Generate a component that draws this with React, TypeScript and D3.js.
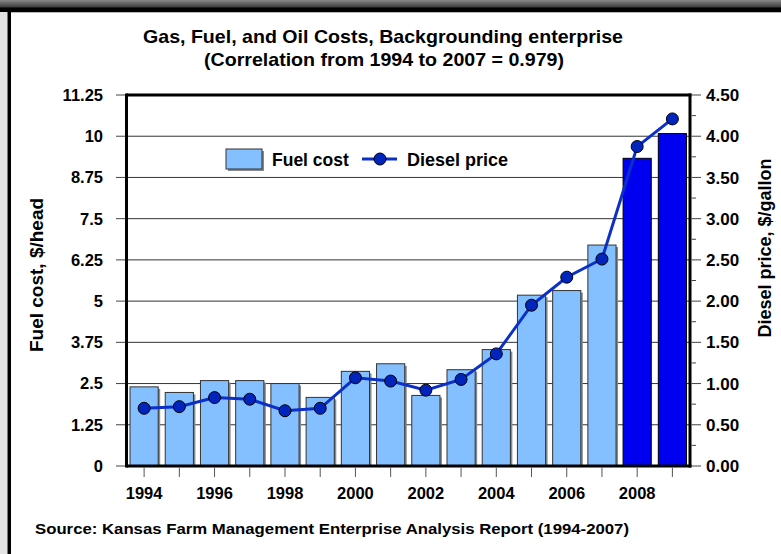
import { useEffect } from "react";
import * as d3 from "d3";

const years = ["1994", "1995", "1996", "1997", "1998", "1999", "2000", "2001", "2002", "2003", "2004", "2005", "2006", "2007", "2008", "2009"];
const fuelCost = [2.4, 2.23, 2.59, 2.59, 2.5, 2.08, 2.87, 3.1, 2.14, 2.92, 3.53, 5.18, 5.32, 6.7, 9.33, 10.08];
const dieselPrice = [0.7, 0.72, 0.83, 0.81, 0.67, 0.7, 1.07, 1.03, 0.92, 1.05, 1.36, 1.95, 2.29, 2.51, 3.875, 4.21];
const projectedYears = ["2008", "2009"];
const xLabelYears = ["1994", "1996", "1998", "2000", "2002", "2004", "2006", "2008"];
const leftTicks = [0, 1.25, 2.5, 3.75, 5, 6.25, 7.5, 8.75, 10, 11.25];
const leftTickLabels = ["0", "1.25", "2.5", "3.75", "5", "6.25", "7.5", "8.75", "10", "11.25"];
const rightTicks = [0, 0.5, 1, 1.5, 2, 2.5, 3, 3.5, 4, 4.5];
const rightMinor = [0.25, 0.75, 1.25, 1.75, 2.25, 2.75, 3.25, 3.75, 4.25];

const W = 781;
const H = 554;
const plot = { left: 126.5, right: 690, top: 95, bottom: 466 };
const font = "'Liberation Sans', Arial, sans-serif";

export default function App() {
  useEffect(() => {
    document.body.style.margin = "0";
  }, []);

  const x = d3.scaleBand<string>().domain(years).range([plot.left, plot.right]).paddingInner(0.2).paddingOuter(0.1);
  const yL = d3.scaleLinear().domain([0, 11.25]).range([plot.bottom, plot.top]);
  const yR = d3.scaleLinear().domain([0, 4.5]).range([plot.bottom, plot.top]);
  const cx = (yr: string) => (x(yr) ?? 0) + x.bandwidth() / 2;

  const line = d3
    .line<number>()
    .x((_, i) => cx(years[i]))
    .y(d => yR(d));

  return (
    <svg width={W} height={H} viewBox={`0 0 ${W} ${H}`} style={{ display: "block", background: "#fff" }}>
      <defs>
        <linearGradient id="topband" x1="0" y1="0" x2="0" y2="1">
          <stop offset="0" stopColor="#888" />
          <stop offset="1" stopColor="#333" />
        </linearGradient>
      </defs>
      {/* frame */}
      <rect x={0} y={0} width={W} height={8} fill="url(#topband)" />
      <rect x={0} y={7.5} width={W} height={4.5} fill="#000" />
      <rect x={0} y={12} width={W} height={1} fill="#bbb" />
      <rect x={0} y={12} width={7.5} height={H} fill="#e4e4e4" />
      <rect x={7.5} y={11} width={3.5} height={H} fill="#000" />

      {/* title */}
      <g fontFamily={font} fontWeight="bold" fill="#000" textAnchor="middle">
        <text x={383} y={43} fontSize={18.5} textLength={480} lengthAdjust="spacingAndGlyphs">
          Gas, Fuel, and Oil Costs, Backgrounding enterprise
        </text>
        <text x={384} y={66} fontSize={18.5} textLength={360} lengthAdjust="spacingAndGlyphs">
          (Correlation from 1994 to 2007 = 0.979)
        </text>
      </g>

      {/* gridlines */}
      {leftTicks.map(t => (
        <line key={t} x1={plot.left} x2={plot.right} y1={yL(t)} y2={yL(t)} stroke="#333" strokeWidth={1} />
      ))}

      {/* bars */}
      {years.map((yr, i) => {
        const proj = projectedYears.includes(yr);
        const bx = x(yr) ?? 0;
        const by = yL(fuelCost[i]);
        const bh = plot.bottom - by;
        return (
          <g key={yr}>
            {!proj && <rect x={bx + 2} y={by + 2} width={x.bandwidth()} height={bh - 2} fill="#8a8a8a" />}
            <rect
              x={bx}
              y={by}
              width={x.bandwidth()}
              height={bh}
              fill={proj ? "#0000f0" : "#84c0ff"}
              stroke={proj ? "#000" : "#333"}
              strokeWidth={1}
            />
          </g>
        );
      })}

      {/* axes frame */}
      <line x1={plot.left} x2={plot.right + 1.5} y1={plot.top} y2={plot.top} stroke="#000" strokeWidth={3} />
      <line x1={plot.left} x2={plot.right + 1.5} y1={plot.bottom} y2={plot.bottom} stroke="#000" strokeWidth={3} />
      <line x1={plot.left} x2={plot.left} y1={plot.top - 1.5} y2={plot.bottom + 1.5} stroke="#000" strokeWidth={3} />
      <line x1={plot.right} x2={plot.right} y1={plot.top - 1.5} y2={plot.bottom + 1.5} stroke="#000" strokeWidth={3} />

      {/* diesel line */}
      <path d={line(dieselPrice) ?? ""} fill="none" stroke="#0a30c8" strokeWidth={3} />
      {dieselPrice.map((d, i) => (
        <circle key={years[i]} cx={cx(years[i])} cy={yR(d)} r={6} fill="#0024bc" stroke="#000" strokeWidth={1} />
      ))}

      {/* left axis */}
      <g fontFamily={font} fontWeight="bold" fontSize={16.5} fill="#000">
        {leftTicks.map((t, i) => (
          <g key={t}>
            <line x1={116} x2={plot.left - 1.5} y1={yL(t)} y2={yL(t)} stroke="#444" strokeWidth={1} />
            <text x={103} y={yL(t)} dy="0.36em" textAnchor="end">
              {leftTickLabels[i]}
            </text>
          </g>
        ))}
      </g>

      {/* right axis */}
      <g fontFamily={font} fontWeight="bold" fontSize={17} fill="#000">
        {rightTicks.map(t => (
          <g key={t}>
            <line x1={plot.right + 1.5} x2={701} y1={yR(t)} y2={yR(t)} stroke="#444" strokeWidth={1} />
            <text x={706} y={yR(t)} dy="0.36em" textAnchor="start">
              {t.toFixed(2)}
            </text>
          </g>
        ))}
        {rightMinor.map(t => (
          <line key={t} x1={plot.right + 1.5} x2={696} y1={yR(t)} y2={yR(t)} stroke="#444" strokeWidth={1} />
        ))}
      </g>

      {/* x axis */}
      <g fontFamily={font} fontWeight="bold" fontSize={16.5} fill="#000">
        {years.map(yr => (
          <line key={yr} x1={cx(yr)} x2={cx(yr)} y1={plot.bottom + 1.5} y2={477} stroke="#555" strokeWidth={1} />
        ))}
        {xLabelYears.map(yr => (
          <text key={yr} x={cx(yr)} y={499} textAnchor="middle">
            {yr}
          </text>
        ))}
      </g>

      {/* axis titles */}
      <text
        transform={`translate(43,275) rotate(-90)`}
        fontFamily={font}
        fontWeight="bold"
        fontSize={19}
        textAnchor="middle"
      >
        Fuel cost, $/head
      </text>
      <text
        transform={`translate(771,248) rotate(-90)`}
        fontFamily={font}
        fontWeight="bold"
        fontSize={18}
        textAnchor="middle"
      >
        Diesel price, $/gallon
      </text>

      {/* legend */}
      <g fontFamily={font} fontWeight="bold" fontSize={17.5}>
        <rect x={228} y={151} width={36} height={20} fill="#8a8a8a" />
        <rect x={226} y={149} width={36} height={20} fill="#84c0ff" stroke="#333" strokeWidth={1} />
        <text x={272} y={165.5}>Fuel cost</text>
        <line x1={362} x2={397} y1={159} y2={159} stroke="#0a30c8" strokeWidth={3} />
        <circle cx={380} cy={159} r={6} fill="#0024bc" stroke="#000" strokeWidth={1} />
        <text x={407} y={165.5} fontSize={18}>Diesel price</text>
      </g>

      {/* source */}
      <text
        x={35}
        y={534}
        fontFamily={font}
        fontWeight="bold"
        fontSize={15}
        textLength={594}
        lengthAdjust="spacingAndGlyphs"
      >
        Source: Kansas Farm Management Enterprise Analysis Report (1994-2007)
      </text>
    </svg>
  );
}
